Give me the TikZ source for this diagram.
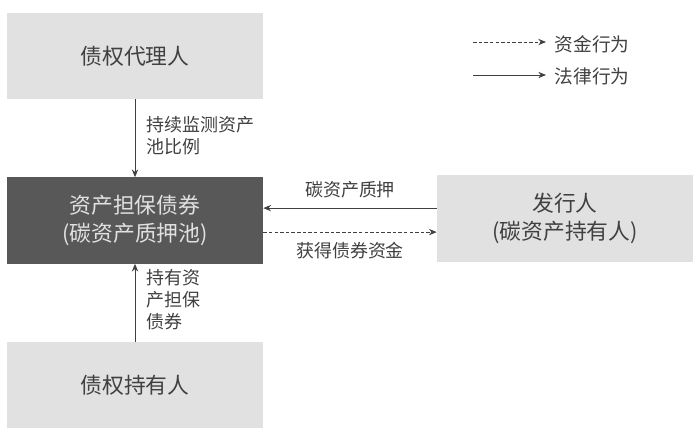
\documentclass[tikz,border=0pt]{standalone}
\usepackage{fontspec}
\usepackage{xcolor}
\setmainfont{Noto Sans CJK SC}
\usetikzlibrary{arrows.meta}
\definecolor{boxgray}{HTML}{E1E1E1}
\definecolor{darkbox}{HTML}{585858}
\definecolor{inkgray}{HTML}{404040}

\begin{document}
\begin{tikzpicture}[
  x=0.025cm,y=-0.025cm,
  box/.style={rectangle,fill=boxgray,minimum width=6.4cm,minimum height=2.15cm,
    align=center,text=inkgray,font=\fontsize{15.5pt}{20pt}\selectfont},
  dbox/.style={box,fill=darkbox,text=boxgray},
  lbl/.style={text=inkgray,font=\fontsize{12.8pt}{15.5pt}\selectfont,inner sep=1pt},
  legal/.style={draw=inkgray,line width=0.6pt,-{Stealth[length=5.5pt,width=4.5pt]}},
  fund/.style={legal,dash pattern=on 2.5pt off 1.5pt}
]
  \useasboundingbox (0,0) rectangle (700,435);
  \node[box] (agent) at (135,56) {债权代理人};
  \node[dbox] (bond) at (135,220.5) {资产担保债券\\(碳资产质押池)};
  \node[box] (holder) at (135,385) {债权持有人};
  \node[box] (issuer) at (565,218.5) {发行人\\(碳资产持有人)};
  \draw[legal] (agent.south) -- (bond.north);
  \draw[legal] (holder.north) -- (bond.south);
  \draw[legal] ([yshift=0.26cm]issuer.west) -- ([yshift=0.26cm]issuer.west -| bond.east);
  \draw[fund] ([yshift=-0.29cm]bond.east) -- ([yshift=-0.29cm]bond.east -| issuer.west);
  \node[lbl,anchor=north west,align=left] (l1) at (145,115) {持续监测资产\\池比例};
  \node[lbl,anchor=north west,align=left] (l2) at (145,268) {持有资\\产担保\\债券};
  \node[lbl] (l3) at (350,190) {碳资产质押};
  \node[lbl] (l4) at (350,251) {获得债券资金};
  % legend
  \coordinate (f0) at (473,42);
  \coordinate (f1) at (546,42);
  \coordinate (g0) at (473,75);
  \coordinate (g1) at (546,75);
  \draw[fund] (f0) -- (f1);
  \draw[legal] (g0) -- (g1);
  \node[lbl,anchor=west,font=\fontsize{13.3pt}{16pt}\selectfont] (k1) at (553,44) {资金行为};
  \node[lbl,anchor=west,font=\fontsize{13.3pt}{16pt}\selectfont] (k2) at (553,76) {法律行为};
\end{tikzpicture}
\end{document}
